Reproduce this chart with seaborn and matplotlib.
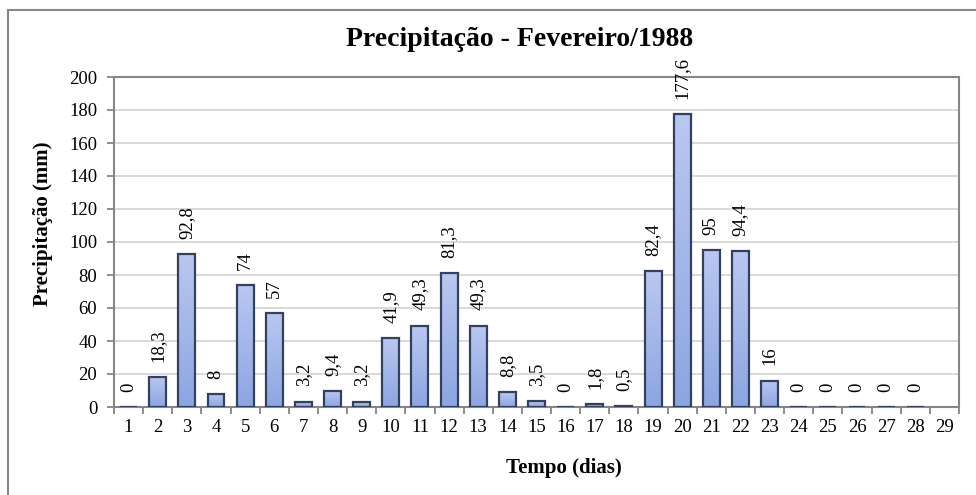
import numpy as np
import pandas as pd
import matplotlib
matplotlib.use("Agg")
import matplotlib.pyplot as plt
from matplotlib.patches import Rectangle
import seaborn as sns

# Daily rainfall, February 1988 (day 29 has no record)
days = [str(d) for d in range(1, 30)]
recorded_days = [str(d) for d in range(1, 29)]
rain_mm = [0, 18.3, 92.8, 8, 74, 57, 3.2, 9.4, 3.2, 41.9, 49.3, 81.3, 49.3, 8.8,
           3.5, 0, 1.8, 0.5, 82.4, 177.6, 95, 94.4, 16, 0, 0, 0, 0, 0]
y_ticks = [0, 20, 40, 60, 80, 100, 120, 140, 160, 180, 200]

title = "Precipitação - Fevereiro/1988"
y_label = "Precipitação (mm)"
x_label = "Tempo (dias)"

df = pd.DataFrame({"dia": recorded_days, "chuva": rain_mm})

sns.set_theme(style="white")
plt.rcParams["font.family"] = ["Liberation Serif", "DejaVu Serif"]
plt.rcParams["text.color"] = "black"
plt.rcParams["axes.labelcolor"] = "black"
plt.rcParams["xtick.color"] = "black"
plt.rcParams["ytick.color"] = "black"

W, H = 976, 495
fig = plt.figure(figsize=(W / 100, H / 100), dpi=100)
ax = fig.add_axes([114 / W, 1 - 407 / H, (959 - 114) / W, (407 - 77) / H])

edge = "#34415c"
sns.barplot(data=df, x="dia", y="chuva", order=days, ax=ax, width=0.58,
            color="#a3b6ea", edgecolor=edge, linewidth=1.6, saturation=1,
            errorbar=None, zorder=3)

# vertical gradient fill inside each bar
grad = np.linspace(0, 1, 256).reshape(-1, 1)
cmap = matplotlib.colors.LinearSegmentedColormap.from_list(
    "barfill", ["#8ca5e1", "#bac8f1"])
for p in list(ax.patches):
    x0, y0 = p.get_x(), p.get_y()
    w, h = p.get_width(), p.get_height()
    if not np.isfinite(h) or h <= 0:
        continue
    im = ax.imshow(grad, cmap=cmap, origin="lower", aspect="auto",
                   extent=[x0, x0 + w, y0, y0 + h], zorder=2.5,
                   interpolation="bilinear")
    im.set_clip_path(p)
    p.set_facecolor("none")

# rotated value labels above the bars
for i, v in enumerate(rain_mm):
    txt = f"{v:g}".replace(".", ",")
    ax.annotate(txt, xy=(i, v), xytext=(0, 11), textcoords="offset points",
                rotation=90, ha="center", va="bottom", fontsize=13.5,
                color="black", zorder=5)

ax.set_xlim(-0.5, len(days) - 0.5)
ax.set_ylim(0, 200)
ax.set_yticks(y_ticks)
ax.set_yticklabels([str(t) for t in y_ticks])
ax.set_xticks(range(len(days)))
ax.set_xticklabels(days)
ax.set_xticks(np.arange(-0.5, len(days)), minor=True)
ax.tick_params(axis="x", which="major", length=0, pad=9, labelsize=13.5,
               labelcolor="black")
ax.tick_params(axis="x", which="minor", length=5, width=1.3, color="#868686",
               direction="out", bottom=True)
ax.tick_params(axis="y", length=5, width=1.3, color="#868686", direction="out",
               left=True, pad=7, labelsize=13.5, labelcolor="black")
ax.set_xlabel("")
ax.set_ylabel("")

ax.yaxis.grid(True, color="#d9d9d9", linewidth=1.4, zorder=0)
ax.xaxis.grid(False)
ax.set_axisbelow(True)
for s in ax.spines.values():
    s.set_visible(True)
    s.set_color("#868686")
    s.set_linewidth(1.5)

fig.text(520 / W, 1 - 40 / H, title, ha="center", va="center",
         fontsize=20, fontweight="bold", color="black")
fig.text(43 / W, 1 - 224 / H, y_label, ha="center", va="center",
         rotation=90, fontsize=15, fontweight="bold", color="black")
fig.text(564 / W, 1 - 468 / H, x_label, ha="center", va="center",
         fontsize=15, fontweight="bold", color="black")

# chart frame
fig.patches.append(Rectangle((8 / W, -0.1), 1.2, 1 - 10 / H + 0.1,
                             transform=fig.transFigure, fill=False,
                             edgecolor="#868686", linewidth=1.5))

fig.savefig("out.png", dpi=100)
